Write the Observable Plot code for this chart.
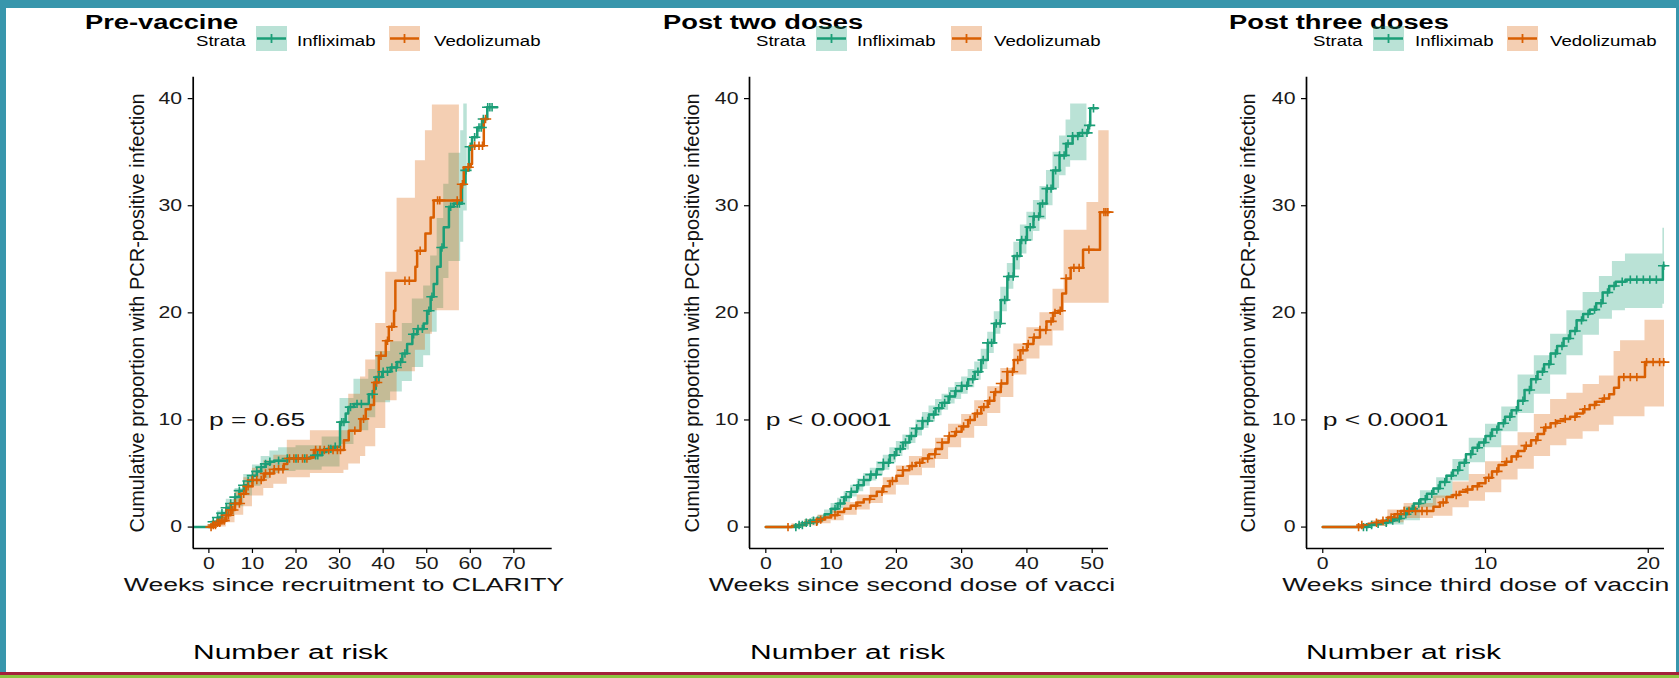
<!DOCTYPE html>
<html>
<head>
<meta charset="utf-8">
<script src="https://cdn.jsdelivr.net/npm/d3@7"></script>
<script src="https://cdn.jsdelivr.net/npm/@observablehq/plot@0.6"></script>
<style>
  html, body { margin: 0; padding: 0; }
  body { width: 1679px; height: 678px; overflow: hidden; position: relative; background: #3896ac;
         font-family: "Liberation Sans", Arial, Helvetica, sans-serif; }
  #sheet { position: absolute; left: 6px; top: 8px; width: 1670px; height: 664px; background: #fff; }
  #rule-red { position: absolute; left: 0; top: 672px; width: 1679px; height: 3px; background: #a3203a; }
  #rule-green { position: absolute; left: 0; top: 675px; width: 1679px; height: 3px; background: #8cc43f; }
  .panel { position: absolute; overflow: hidden; }
  .txt { position: absolute; white-space: nowrap; line-height: 1; transform-origin: 0 0; color: #000; }
  .sw { position: absolute; width: 31px; height: 25px; }
  .sw svg { display: block; }
</style>
</head>
<body>
<div id="sheet"></div>
<div id="rule-red"></div>
<div id="rule-green"></div>
<div id="root"></div>
<script>
// ---------------- text / categories ----------------
const titles = ["Pre-vaccine", "Post two doses", "Post three doses"];
const strataTitle = "Strata";
const strata = ["Infliximab", "Vedolizumab"];
const xTitles = ["Weeks since recruitment to CLARITY", "Weeks since second dose of vacci", "Weeks since third dose of vaccin"];
const yTitle = "Cumulative proportion with PCR-positive infection";
const pLabels = ["p = 0.65", "p < 0.0001", "p < 0.0001"];
const pPos = [0, 10]; // weeks, percent
const riskTitle = "Number at risk";
const yTicks = [0, 10, 20, 30, 40];
const yDomain = [-2, 42];
const xTicks1 = [0, 10, 20, 30, 40, 50, 60, 70];
const xTicks2 = [0, 10, 20, 30, 40, 50];
const xTicks3 = [0, 10, 20];
const xDomain1 = [-3.6, 78.8];
const xDomain2 = [-2.5, 52.5];
const xDomain3 = [-1, 21];

// ---------------- Panel 1: pre-vaccine ----------------
const pre_inf_t = [-3.4, 0.5, 1, 2, 3, 4, 5, 6, 7, 8, 9, 10, 11, 12, 13, 14, 15, 18, 23, 24, 26, 27, 28.5, 30.1, 31.4, 32, 33.3, 36.7, 37.9, 38.3, 39.8, 41.7, 43.2, 44.4, 45.5, 46.7, 47.8, 49.3, 50.1, 50.9, 51.6, 52.4, 53.2, 53.9, 55.1, 56.2, 58.1, 58.9, 59.7, 60.4, 61.6, 62.7, 63.9, 66.2];
const pre_inf_s = [0, 0.2, 0.5, 0.9, 1.3, 1.8, 2.2, 2.8, 3.4, 3.9, 4.3, 4.8, 5.2, 5.6, 5.9, 6.1, 6.2, 6.4, 6.5, 6.7, 7.0, 7.3, 7.5, 9.8, 10.6, 11.2, 11.5, 12.4, 12.9, 14.0, 14.5, 14.9, 15.4, 16.2, 17.1, 18.0, 18.5, 19.0, 20.2, 21.5, 22.7, 24.3, 26.1, 28.0, 29.9, 30.2, 32.0, 33.3, 35.5, 36.4, 37.3, 38.1, 39.2, 39.2];
const pre_inf_ci_t = [-3.4, 0.5, 2, 4, 6, 8, 10, 12, 14, 16, 20, 26, 30.1, 33.3, 36.7, 38.3, 41.7, 44.4, 46.7, 49.3, 50.9, 52.4, 53.9, 55.1, 57.8, 58.5, 59.3];
const pre_inf_lo = [0, 0, 0.4, 1.1, 1.9, 2.9, 3.8, 4.5, 5.0, 5.2, 5.3, 5.6, 7.7, 9.0, 10.2, 11.6, 12.6, 13.6, 14.9, 16.0, 18.2, 20.4, 23.2, 24.8, 26.6, 29.5, 29.5];
const pre_inf_hi = [0, 0.6, 1.5, 2.6, 3.6, 4.9, 5.8, 6.6, 7.1, 7.4, 7.6, 8.4, 12.0, 13.8, 14.7, 16.4, 17.3, 19.0, 21.3, 22.5, 25.3, 28.8, 32.0, 34.9, 37.0, 39.5, 39.5];
const pre_inf_cens = [1, 2, 3, 4, 5, 6, 7, 8, 9, 10, 11, 12, 13, 14, 16, 18, 20, 22, 24.5, 25, 27.5, 28, 29, 30.5, 31, 32.5, 34, 35, 37.5, 39, 40, 41, 42, 43, 44, 45, 47, 48, 49, 50.5, 51.2, 53.5, 55.5, 57, 57.5, 59, 60, 61, 62, 62.5, 63, 64, 64.5, 65];

const pre_ved_t = [0, 1, 2, 2.7, 4, 5, 6, 7.3, 8.5, 10, 12.6, 14.9, 17.2, 18, 23.3, 24.1, 31, 32.1, 34.8, 36, 37.1, 37.9, 39, 40.6, 41.3, 42.5, 42.8, 47.4, 47.8, 49.7, 50.9, 51.6, 57.8, 58.5, 60.1, 60.4, 63.1, 63.9];
const pre_ved_s = [0, 0.2, 0.4, 0.6, 1.1, 1.6, 2.2, 3.1, 3.8, 4.4, 5.0, 5.4, 5.9, 6.4, 6.5, 7.2, 8.1, 9.0, 10.1, 11.0, 11.4, 13.5, 16.0, 17.4, 18.7, 20.2, 23.0, 24.3, 25.8, 27.4, 28.9, 30.5, 32.0, 33.6, 33.9, 35.6, 38.1, 38.1];
const pre_ved_ci_t = [0, 2, 4, 6, 8, 10, 12.6, 14.9, 18, 23.3, 31, 32.1, 34.8, 36, 38.3, 40.6, 43.2, 47.4, 49.7, 51.3, 57.5];
const pre_ved_lo = [0, 0, 0.4, 1.1, 1.9, 2.9, 3.6, 4.0, 4.6, 5.0, 5.3, 5.9, 6.6, 7.5, 9.2, 11.8, 14.5, 16.5, 18.0, 20.2, 20.2];
const pre_ved_hi = [0, 1.0, 2.0, 3.3, 4.6, 5.5, 6.2, 6.7, 8.1, 9.0, 9.0, 12.4, 14.0, 15.6, 19.0, 23.8, 30.7, 34.2, 37.0, 39.4, 39.4];
const pre_ved_cens = [0.5, 1, 1.5, 2, 2.5, 3, 3.5, 4, 4.5, 5, 5.5, 6, 7, 8, 9, 10, 11, 12, 13, 14, 15, 16, 17, 18.5, 19.5, 20.5, 21.5, 22.5, 24.5, 25.5, 26.5, 27.5, 28.5, 29.5, 30.2, 33.5, 35.5, 38.5, 39.5, 41, 42, 45, 46, 48.5, 52.5, 53, 57, 58.2, 59.5, 61, 62, 62.8, 63.5];

// ---------------- Panel 2: post two doses ----------------
const post2_inf_t = [0, 4.5, 5, 6, 7, 8, 9, 10, 11, 12, 13, 14, 15, 16, 17, 18, 19, 20, 21, 22, 23, 24, 25, 26, 27, 28, 29, 30, 31, 32, 33, 34, 35, 36, 37, 38, 39, 40, 41, 42, 43, 44, 45, 46, 47, 48, 49.4, 49.7, 50.8];
const post2_inf_s = [0, 0, 0.2, 0.4, 0.6, 0.8, 1.2, 1.7, 2.2, 2.8, 3.3, 3.9, 4.4, 4.9, 5.4, 6.0, 6.7, 7.3, 7.9, 8.5, 9.2, 9.9, 10.5, 11.1, 11.6, 12.2, 12.7, 13.2, 13.8, 14.5, 15.6, 17.2, 19.0, 21.2, 23.4, 25.3, 26.8, 28.0, 29.0, 30.2, 31.6, 33.3, 34.7, 35.8, 36.5, 36.8, 37.5, 39.1, 39.1];
const post2_inf_ci_t = [0, 4.5, 5, 6, 7, 8, 9, 10, 11, 12, 13, 14, 15, 16, 17, 18, 19, 20, 21, 22, 23, 24, 25, 26, 27, 28, 29, 30, 31, 32, 33, 34, 35, 36, 37, 38, 39, 40, 41, 42, 43, 44, 45, 46, 46.7, 49.2];
const post2_inf_lo = [0, 0, 0.1, 0.2, 0.3, 0.5, 0.8, 1.3, 1.7, 2.3, 2.8, 3.3, 3.8, 4.3, 4.8, 5.3, 6.0, 6.6, 7.2, 7.8, 8.5, 9.2, 9.8, 10.4, 10.9, 11.5, 11.9, 12.4, 13.0, 13.7, 14.7, 16.2, 18.0, 20.1, 22.2, 24.0, 25.5, 26.7, 27.6, 28.7, 30.0, 31.6, 32.8, 33.6, 34.2, 34.2];
const post2_inf_hi = [0, 0, 0.4, 0.7, 0.9, 1.1, 1.6, 2.2, 2.7, 3.3, 3.9, 4.5, 5.0, 5.5, 6.1, 6.7, 7.4, 8.0, 8.6, 9.3, 10.0, 10.7, 11.3, 11.9, 12.4, 13.0, 13.5, 14.0, 14.7, 15.4, 16.6, 18.2, 20.1, 22.4, 24.6, 26.6, 28.2, 29.4, 30.5, 31.8, 33.3, 35.0, 36.5, 38.0, 39.5, 39.5];
const post2_inf_cens = [4.6, 5.1, 5.6, 6.2, 6.8, 7.3, 7.9, 10.6, 11.4, 12.3, 13.1, 14.2, 15.0, 16.1, 16.9, 18.0, 18.8, 19.7, 20.6, 21.4, 22.3, 23.1, 24.0, 24.8, 25.7, 26.5, 27.4, 28.2, 29.1, 30.0, 30.8, 31.7, 32.5, 33.3, 34.0, 34.6, 35.3, 35.9, 36.6, 37.2, 37.9, 38.5, 39.2, 39.8, 40.5, 41.1, 41.8, 42.4, 43.1, 43.7, 44.4, 45.0, 45.7, 46.3, 47.0, 47.8, 48.5, 49.2, 49.6, 50.2];

const post2_ved_t = [0, 3.3, 4, 5, 6, 7, 8, 9, 10, 11, 12, 13, 14, 15, 16, 17, 18, 19, 20, 21, 22, 23, 24, 25, 26, 27, 28, 29, 30, 31, 32, 33, 34, 35, 36, 37, 38, 39, 40, 41, 42, 43, 44, 44.8, 45.4, 46, 46.7, 48.6, 51.2, 52.6];
const post2_ved_s = [0, 0, 0.1, 0.2, 0.4, 0.5, 0.7, 0.9, 1.1, 1.4, 1.7, 2.0, 2.3, 2.6, 2.9, 3.3, 3.8, 4.3, 4.8, 5.3, 5.7, 6.0, 6.4, 6.8, 7.3, 7.9, 8.5, 8.9, 9.4, 10.0, 10.6, 11.2, 11.8, 12.6, 13.4, 14.5, 15.6, 16.5, 17.1, 17.7, 18.4, 19.2, 20.0, 20.2, 21.8, 23.2, 24.2, 25.9, 29.4, 29.4];
const post2_ved_ci_t = [0, 3.3, 4, 6, 8, 10, 12, 14, 16, 18, 20, 22, 24, 26, 28, 30, 32, 34, 36, 38, 40, 42, 44, 45.7, 49.2, 51.0, 52.6];
const post2_ved_lo = [0, 0, 0, 0.1, 0.3, 0.6, 1.1, 1.6, 2.2, 3.0, 3.9, 4.8, 5.5, 6.3, 7.4, 8.3, 9.4, 10.6, 12.1, 14.2, 15.7, 16.9, 18.3, 20.9, 20.9, 20.9, 20.9];
const post2_ved_hi = [0, 0, 0.3, 0.7, 1.1, 1.6, 2.3, 3.0, 3.7, 4.6, 5.7, 6.6, 7.3, 8.3, 9.6, 10.5, 11.8, 13.1, 14.8, 17.1, 18.6, 20.0, 22.2, 27.7, 30.3, 37.0, 37.0];
const post2_ved_cens = [3.4, 7.8, 8.4, 10.6, 13.8, 15.9, 17.8, 19.4, 21.0, 22.4, 23.6, 24.8, 25.9, 27.0, 28.1, 29.2, 30.3, 31.3, 32.4, 33.4, 34.3, 35.2, 36.1, 37.0, 37.8, 38.6, 39.4, 40.2, 41.1, 42.0, 42.9, 43.7, 44.3, 45.1, 46.0, 47.2, 48.0, 49.5, 51.8, 52.1, 52.4];

// ---------------- Panel 3: post three doses ----------------
const post3_inf_t = [0, 2.4, 2.8, 3.2, 3.6, 4, 4.4, 4.8, 5.2, 5.6, 6, 6.4, 6.8, 7.2, 7.6, 8, 8.4, 8.8, 9.2, 9.6, 10, 10.4, 10.8, 11.2, 11.6, 12, 12.4, 12.8, 13.2, 13.6, 14, 14.4, 14.8, 15.2, 15.6, 16, 16.4, 16.8, 17.2, 17.6, 18, 18.6, 20.9, 21];
const post3_inf_s = [0, 0, 0.2, 0.3, 0.4, 0.6, 0.8, 1.2, 1.7, 2.2, 2.6, 3.1, 3.6, 4.2, 4.8, 5.3, 6.0, 6.8, 7.4, 7.9, 8.5, 9.1, 9.7, 10.3, 10.9, 11.8, 12.8, 13.8, 14.5, 15.2, 16.2, 16.9, 17.6, 18.3, 19.3, 19.9, 20.3, 20.9, 21.9, 22.5, 22.9, 23.1, 24.4, 24.4];
const post3_inf_ci_t = [0, 2.4, 3, 4, 5, 6, 7, 8, 9, 10, 11, 12, 13, 14, 15, 16, 17, 17.8, 18.6, 20.9, 21];
const post3_inf_lo = [0, 0, 0.05, 0.2, 0.6, 1.8, 2.7, 4.3, 6.0, 7.4, 8.9, 10.6, 12.4, 14.2, 16.0, 17.9, 19.4, 20.2, 20.4, 20.8, 20.8];
const post3_inf_hi = [0, 0, 0.5, 1.0, 1.9, 3.4, 4.6, 6.3, 8.3, 9.6, 11.2, 14.2, 16.0, 18.0, 20.2, 21.9, 23.4, 24.8, 25.5, 27.9, 27.9];
const post3_inf_cens = [2.5, 2.7, 3.0, 3.4, 3.9, 4.3, 4.7, 5.1, 5.5, 5.9, 6.3, 6.7, 7.1, 7.5, 7.9, 8.3, 8.7, 9.1, 9.5, 9.9, 10.3, 10.7, 11.1, 11.5, 11.9, 12.3, 12.7, 13.1, 13.5, 13.9, 14.3, 14.7, 15.1, 15.5, 15.9, 16.3, 16.7, 17.1, 17.5, 17.9, 18.4, 18.9, 19.3, 19.7, 20.1, 20.5, 20.95];

const post3_ved_t = [0, 2.0, 2.4, 2.8, 3.2, 3.6, 4, 4.4, 4.8, 6.6, 6.8, 7.2, 7.6, 8, 8.4, 8.8, 9.2, 9.6, 10, 10.4, 10.8, 11.2, 11.6, 12, 12.4, 12.8, 13.2, 13.6, 14, 14.4, 14.8, 15.2, 15.6, 16, 16.4, 16.8, 17.2, 17.6, 17.9, 18.2, 19.8, 21];
const post3_ved_s = [0, 0, 0.2, 0.3, 0.4, 0.6, 0.9, 1.2, 1.5, 1.5, 1.9, 2.3, 2.8, 3.0, 3.3, 3.5, 3.8, 4.1, 4.6, 5.2, 5.8, 6.1, 6.6, 7.1, 7.6, 8.1, 8.7, 9.3, 9.7, 9.9, 10.1, 10.3, 10.6, 11.0, 11.4, 11.7, 12.0, 12.4, 13.0, 14.0, 15.4, 15.4];
const post3_ved_ci_t = [0, 2.0, 3, 4, 5, 6.8, 8, 9, 10, 11, 12, 13, 14, 15, 16, 17, 17.9, 18.3, 19.8, 21];
const post3_ved_lo = [0, 0, 0.05, 0.4, 0.8, 1.0, 1.8, 2.4, 3.2, 4.4, 5.4, 6.6, 7.6, 8.2, 8.9, 9.5, 10.3, 10.3, 11.2, 11.2];
const post3_ved_hi = [0, 0, 0.6, 1.6, 2.2, 2.9, 4.2, 4.9, 6.1, 7.6, 8.8, 10.5, 11.9, 12.5, 13.3, 14.1, 16.4, 17.4, 19.3, 19.3];
const post3_ved_cens = [2.2, 2.4, 3.3, 3.7, 4.2, 4.6, 5.0, 5.3, 5.7, 6.1, 6.4, 7.4, 8.2, 8.9, 9.5, 10.2, 10.7, 11.3, 11.9, 12.5, 13.1, 13.7, 14.3, 14.9, 15.5, 16.1, 16.7, 17.3, 18.5, 18.9, 19.3, 19.9, 20.3, 20.7, 20.95];

// ---------------- styling ----------------
const GREEN = "#1B9E77", ORANGE = "#D95F02";
const FONT = '"Liberation Sans", Arial, Helvetica, sans-serif';
const root = document.getElementById("root");

const curveRows = (ts, vs) => ts.map((t, i) => ({t, v: vs[i]}));
const ciRows = (ts, lo, hi) => ts.map((t, i) => ({t, lo: lo[i], hi: hi[i]}));
function censRows(cens, ts, vs) {
  return cens.map(t => {
    const i = Math.max(0, d3.bisectRight(ts, t) - 1);
    return {t, v: vs[i]};
  });
}
// "+" censor mark, wider than tall like the reference
const plusWide = {
  draw(ctx, size) {
    const r = Math.sqrt(size / Math.PI), w = r * 1.35;
    ctx.moveTo(-w, 0); ctx.lineTo(w, 0);
    ctx.moveTo(0, -r); ctx.lineTo(0, r);
  }
};

function stretchText(svg) {
  svg.querySelectorAll("text").forEach(el => {
    let rotated = false;
    for (let n = el; n && n !== svg; n = n.parentNode) {
      const tr = n.getAttribute && n.getAttribute("transform");
      if (tr && tr.includes("rotate")) rotated = true;
    }
    if (rotated) return;
    const s = el.textContent.startsWith("p ") ? 1.47 : el.textContent.startsWith("Weeks") ? 1.48 : 1.33;
    const t = el.getAttribute("transform") || "";
    let x = parseFloat(el.getAttribute("x")) || 0;
    const dxa = el.getAttribute("dx");
    if (dxa && !/em/.test(dxa)) x += parseFloat(dxa) || 0;
    const y = parseFloat(el.getAttribute("y")) || 0;
    el.setAttribute("transform", `${t} translate(${x},${y}) scale(${s},1) translate(${-x},${-y})`.trim());
  });
}

function makePanel(p) {
  const infRows = curveRows(p.inf_t, p.inf_s);
  const vedRows = curveRows(p.ved_t, p.ved_s);
  const svg = Plot.plot({
    width: p.width, height: 545,
    marginLeft: p.ml, marginRight: p.mr, marginTop: 16.7, marginBottom: 57,
    style: {fontFamily: FONT, fontSize: "16px", color: "#1a1a1a", background: "white"},
    x: {domain: p.xDomain},
    y: {domain: yDomain},
    marks: [
      Plot.areaY(ciRows(p.inf_ci_t, p.inf_lo, p.inf_hi), {x: "t", y1: "lo", y2: "hi", curve: "step-after", fill: GREEN, fillOpacity: 0.3}),
      Plot.areaY(ciRows(p.ved_ci_t, p.ved_lo, p.ved_hi), {x: "t", y1: "lo", y2: "hi", curve: "step-after", fill: ORANGE, fillOpacity: 0.3}),
      Plot.line(infRows, {x: "t", y: "v", curve: "step-after", stroke: GREEN, strokeWidth: 2.5}),
      Plot.line(vedRows, {x: "t", y: "v", curve: "step-after", stroke: ORANGE, strokeWidth: 2.5}),
      Plot.dot(censRows(p.inf_cens, p.inf_t, p.inf_s), {x: "t", y: "v", r: 4.2, symbol: plusWide, fill: "none", stroke: GREEN, strokeWidth: 1.6}),
      Plot.dot(censRows(p.ved_cens, p.ved_t, p.ved_s), {x: "t", y: "v", r: 4.2, symbol: plusWide, fill: "none", stroke: ORANGE, strokeWidth: 1.6}),
      Plot.ruleX([p.xDomain[0]], {stroke: "#000", strokeWidth: 1.7}),
      Plot.ruleY([yDomain[0]], {stroke: "#000", strokeWidth: 1.7}),
      Plot.axisX({ticks: p.xTicks, tickSize: 5, tickPadding: 4, label: null, stroke: "#000", strokeWidth: 1.2}),
      Plot.axisY({ticks: yTicks, tickSize: 5, tickPadding: 6, label: null, stroke: "#000", strokeWidth: 1.2}),
      Plot.text([{t: pPos[0], v: pPos[1], label: p.pLabel}], {x: "t", y: "v", text: "label", textAnchor: "start", lineAnchor: "middle", fontSize: 18, fill: "#111"}),
      Plot.text([yTitle], {frameAnchor: "left", text: d => d, rotate: -90, textAnchor: "middle", lineAnchor: "middle", dx: p.yDx, fontSize: 20, fill: "#111"}),
      Plot.text([p.xTitle], {frameAnchor: "bottom-left", text: d => d, textAnchor: "start", lineAnchor: "middle", dx: p.xDx, dy: 37, fontSize: 18, fill: "#111"})
    ]
  });
  stretchText(svg);
  const wrap = document.createElement("div");
  wrap.className = "panel";
  Object.assign(wrap.style, {left: p.left + "px", top: "60px", width: p.width + "px", height: "545px"});
  wrap.appendChild(svg);
  root.appendChild(wrap);
}

function addText(str, left, top, size, weight, stretch) {
  const d = document.createElement("div");
  d.className = "txt";
  d.textContent = str;
  Object.assign(d.style, {left: left + "px", top: top + "px", fontSize: size + "px", fontWeight: weight, transform: `scaleX(${stretch})`});
  root.appendChild(d);
}
function addSwatch(color, left, top) {
  const d = document.createElement("div");
  d.className = "sw";
  Object.assign(d.style, {left: left + "px", top: top + "px"});
  d.innerHTML = `<svg width="31" height="25"><rect width="31" height="25" fill="${color}" fill-opacity="0.3"></rect>` +
    `<line x1="1" x2="30" y1="12.5" y2="12.5" stroke="${color}" stroke-width="2.5"></line>` +
    `<line x1="15.5" x2="15.5" y1="8" y2="17" stroke="${color}" stroke-width="1.8"></line></svg>`;
  root.appendChild(d);
}

const panels = [
  {left: 105, width: 462, ml: 87.7, mr: 15.3, xDomain: xDomain1, xTicks: xTicks1, yDx: -56, xDx: -69.4,
   titleX: 85, legend: [196, 256, 297, 389, 434], riskX: 193,
   inf_t: pre_inf_t, inf_s: pre_inf_s, inf_ci_t: pre_inf_ci_t, inf_lo: pre_inf_lo, inf_hi: pre_inf_hi, inf_cens: pre_inf_cens,
   ved_t: pre_ved_t, ved_s: pre_ved_s, ved_ci_t: pre_ved_ci_t, ved_lo: pre_ved_lo, ved_hi: pre_ved_hi, ved_cens: pre_ved_cens},
  {left: 665, width: 480, ml: 84, mr: 37, xDomain: xDomain2, xTicks: xTicks2, yDx: -57.3, xDx: -40.7,
   titleX: 663, legend: [756, 816, 857, 951, 994], riskX: 749.5,
   inf_t: post2_inf_t, inf_s: post2_inf_s, inf_ci_t: post2_inf_ci_t, inf_lo: post2_inf_lo, inf_hi: post2_inf_hi, inf_cens: post2_inf_cens,
   ved_t: post2_ved_t, ved_s: post2_ved_s, ved_ci_t: post2_ved_ci_t, ved_lo: post2_ved_lo, ved_hi: post2_ved_hi, ved_cens: post2_ved_cens},
  {left: 1222, width: 454, ml: 84, mr: 12, xDomain: xDomain3, xTicks: xTicks3, yDx: -58, xDx: -24.3,
   titleX: 1229, legend: [1313, 1373, 1415, 1507, 1550], riskX: 1306,
   inf_t: post3_inf_t, inf_s: post3_inf_s, inf_ci_t: post3_inf_ci_t, inf_lo: post3_inf_lo, inf_hi: post3_inf_hi, inf_cens: post3_inf_cens,
   ved_t: post3_ved_t, ved_s: post3_ved_s, ved_ci_t: post3_ved_ci_t, ved_lo: post3_ved_lo, ved_hi: post3_ved_hi, ved_cens: post3_ved_cens}
];

panels.forEach((p, k) => {
  p.xTitle = xTitles[k];
  p.pLabel = pLabels[k];
  makePanel(p);
  const L = p.legend;
  addText(titles[k], p.titleX, 13, 19.5, "bold", 1.4);
  addText(strataTitle, L[0], 32.5, 15.5, "normal", 1.2);
  addSwatch(GREEN, L[1], 26);
  addText(strata[0], L[2], 32.5, 15.5, "normal", 1.2);
  addSwatch(ORANGE, L[3], 26);
  addText(strata[1], L[4], 32.5, 15.5, "normal", 1.2);
  addText(riskTitle, p.riskX, 642, 20, "normal", 1.5);
});
</script>
</body>
</html>
